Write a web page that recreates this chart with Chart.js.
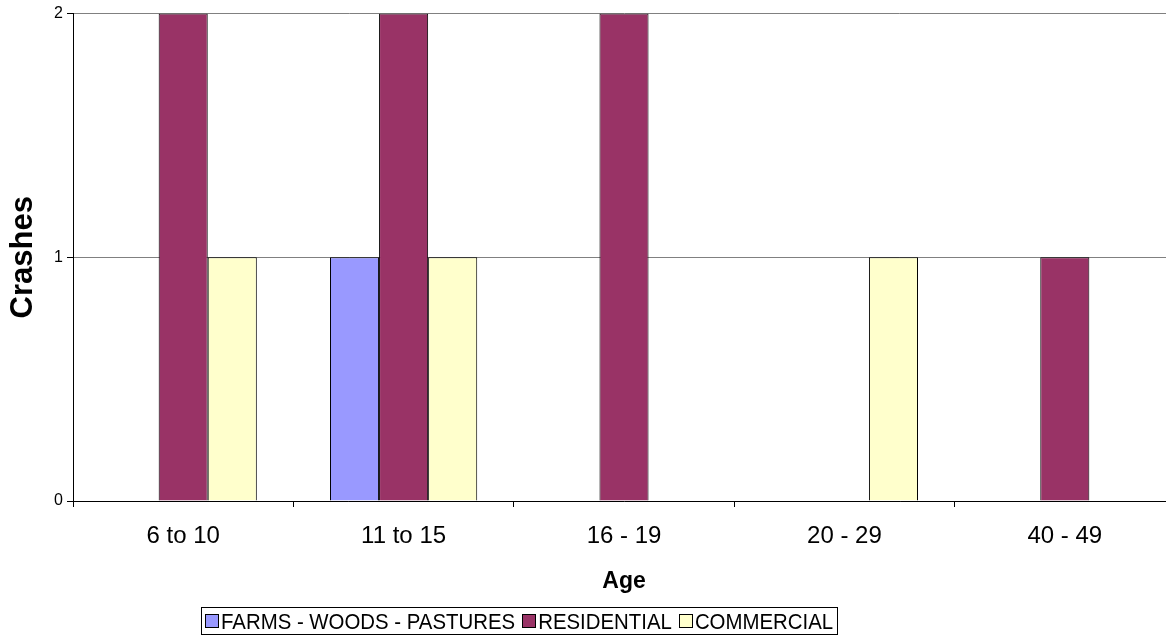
<!DOCTYPE html>
<html>
<head>
<meta charset="utf-8">
<script src="https://cdn.jsdelivr.net/npm/chart.js@4/dist/chart.umd.min.js"></script>
<style>
    body { margin: 0; background: #fff; overflow: hidden; }
    /* the original plot runs a little past the right edge, so the canvas is clipped */
    .wrap { position: relative; width: 1166px; height: 644px; overflow: hidden; }
    .legend {
        position: absolute; left: 201px; top: 607px; height: 26px;
        border: 1px solid #000; padding: 0 4px 0 3px;
        font-family: Arial, "Liberation Sans", sans-serif; font-size: 20.4px; line-height: 26px;
        white-space: nowrap; display: flex; align-items: center;
    }
    .legend span.item { display: flex; align-items: center; margin-right: 7px; }
    .legend span.item:last-child { margin-right: 0; }
    .legend span.box { display: inline-block; width: 12px; height: 12px; border: 1px solid #000; margin-right: 2px; }
    .legend span.txt { display: inline-block; transform: scaleY(1.12); }
</style>
</head>
<body>
<div class="wrap">
    <canvas id="myChart" width="1175" height="644"></canvas>
    <div class="legend" id="legend"></div>
</div>
<script>
var categories = ['6 to 10', '11 to 15', '16 - 19', '20 - 29', '40 - 49'];
var seriesNames = ['FARMS - WOODS - PASTURES', 'RESIDENTIAL', 'COMMERCIAL'];
var farms = [0, 1, 0, 0, 0];
var residential = [2, 2, 2, 0, 1];
var commercial = [1, 1, 0, 1, 0];
var yTicks = [0, 1, 2];

var colors = ['#9999FF', '#993366', '#FFFFCC'];
var font = 'Arial, "Liberation Sans", sans-serif';

var values = [farms, residential, commercial];
var datasets = seriesNames.map(function (name, i) {
    return {
        label: name,
        data: values[i],
        backgroundColor: colors[i],
        borderColor: '#000000',
        borderWidth: 1,
        borderSkipped: 'bottom',
        categoryPercentage: 0.668,
        barPercentage: 1
    };
});

// legend as html, boxed like the original
var legendEl = document.getElementById('legend');
seriesNames.forEach(function (name, i) {
    var item = document.createElement('span');
    item.className = 'item';
    var box = document.createElement('span');
    box.className = 'box';
    box.style.background = colors[i];
    var txt = document.createElement('span');
    txt.className = 'txt';
    txt.textContent = name;
    item.appendChild(box);
    item.appendChild(txt);
    legendEl.appendChild(item);
});

const ctx = document.getElementById('myChart');

new Chart(ctx, {
    type: 'bar',
    data: {
        labels: categories,
        datasets: datasets
    },
    options: {
        responsive: false,
        animation: false,
        layout: {
            padding: { top: 12, right: 0, bottom: 40, left: 0 }
        },
        plugins: {
            legend: { display: false },
            tooltip: { enabled: false }
        },
        scales: {
            x: {
                afterFit: function (scale) { scale.height = 103; },
                grid: {
                    display: true,
                    drawOnChartArea: false,
                    drawTicks: true,
                    tickLength: 6,
                    color: '#000000',
                    offset: true
                },
                border: { color: '#000000', width: 1 },
                ticks: {
                    color: '#000000',
                    padding: 15,
                    maxRotation: 0,
                    font: { family: font, size: 24 }
                },
                title: {
                    display: true,
                    text: 'Age',
                    color: '#000000',
                    padding: { top: 0, bottom: 9 },
                    font: { family: font, size: 23, weight: 'bold' }
                }
            },
            y: {
                min: 0,
                max: 2,
                afterFit: function (scale) { scale.width = 73; },
                afterBuildTicks: function (scale) {
                    scale.ticks = yTicks.map(function (v) { return { value: v }; });
                },
                grid: {
                    color: '#808080',
                    lineWidth: 1,
                    tickLength: 6,
                    tickColor: '#000000'
                },
                border: { color: '#000000', width: 1 },
                ticks: {
                    color: '#000000',
                    padding: 4,
                    font: { family: font, size: 16 }
                },
                title: {
                    display: true,
                    text: 'Crashes',
                    color: '#000000',
                    padding: { top: 5, bottom: 0 },
                    font: { family: font, size: 31, weight: 'bold' }
                }
            }
        }
    }
});
</script>
</body>
</html>
